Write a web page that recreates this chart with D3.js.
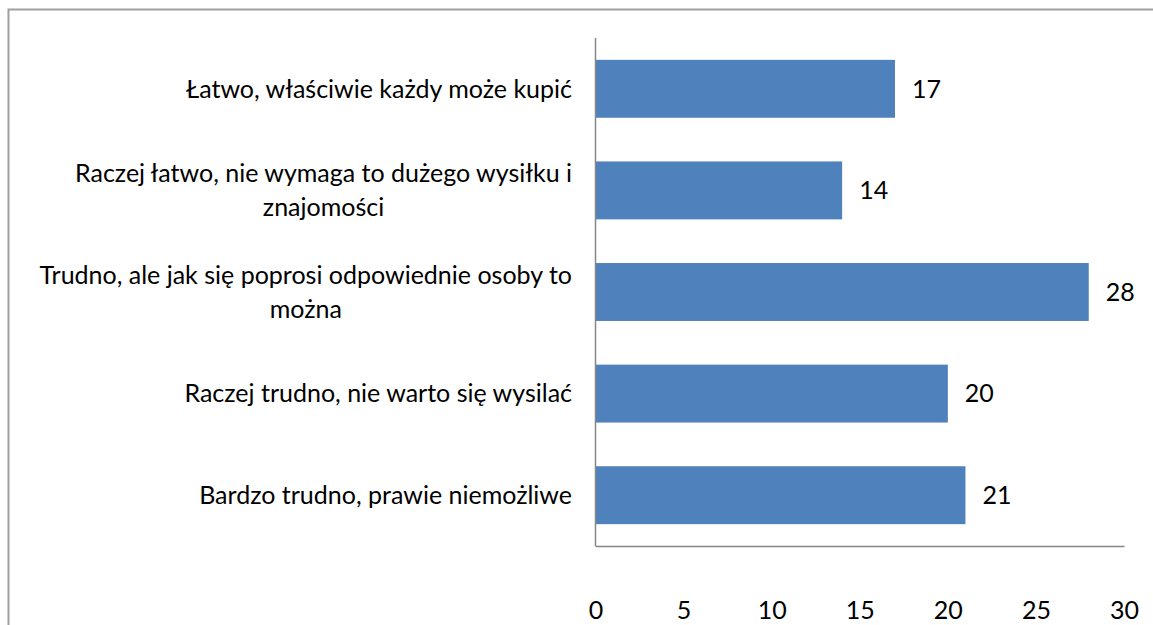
<!DOCTYPE html>
<html>
<head>
<meta charset="utf-8">
<script src="https://cdn.jsdelivr.net/npm/d3@7"></script>
<style>
  body { margin: 0; background: #fff; }
  text { font-family: Lato, "Open Sans", sans-serif; fill: #000; }
</style>
</head>
<body>
<div id="chart"></div>
<script>
var w = 1153;
var h = 625;

// chart data, top to bottom
var categories = [
  ['Łatwo, właściwie każdy może kupić'],
  ['Raczej łatwo, nie wymaga to dużego wysiłku i', 'znajomości'],
  ['Trudno, ale jak się poprosi odpowiednie osoby to', 'można'],
  ['Raczej trudno, nie warto się wysilać'],
  ['Bardzo trudno, prawie niemożliwe']
];
var values = [17, 14, 28, 20, 21];
var ticks = [0, 5, 10, 15, 20, 25, 30];

var fontSize = '25px';

var svg = d3.select('#chart')
  .append('svg')
    .attr('width', w)
    .attr('height', h);

// outer frame (only left and top visible in the crop)
svg.append('rect')
  .attr('x', 8.5)
  .attr('y', 9.5)
  .attr('width', w + 20)
  .attr('height', h + 20)
  .style('fill', 'none')
  .style('stroke', '#a0a0a0')
  .style('stroke-width', 2);

var x = d3.scaleLinear()
  .domain([0, 30])
  .range([595.5, 1124]);

var y = d3.scaleBand()
  .domain(d3.range(categories.length))
  .range([38, 546])
  .paddingInner(0.43)
  .paddingOuter(0.215);

// bars
svg.selectAll('.bar')
  .data(values)
  .enter()
  .append('rect')
    .attr('class', 'bar')
    .attr('x', x(0))
    .attr('y', function(d, i) { return y(i); })
    .attr('width', function(d) { return x(d) - x(0); })
    .attr('height', y.bandwidth())
    .style('fill', '#4f81bd');

// value labels
svg.selectAll('.val')
  .data(values)
  .enter()
  .append('text')
    .attr('class', 'val')
    .attr('x', function(d) { return x(d) + 17; })
    .attr('y', function(d, i) { return y(i) + y.bandwidth() / 2; })
    .attr('dy', '0.35em')
    .style('font-size', fontSize)
    .text(function(d) { return d; });

// category labels
var labelRight = 572;
var lineH = 34;
categories.forEach(function(lines, i) {
  var cy = y(i) + y.bandwidth() / 2;
  var g = svg.append('g');
  var t0 = g.append('text')
    .attr('x', labelRight)
    .attr('y', cy - (lines.length - 1) * lineH / 2)
    .attr('dy', '0.35em')
    .attr('text-anchor', 'end')
    .style('font-size', fontSize)
    .text(lines[0]);
  if (lines.length > 1) {
    var wid = t0.node().getComputedTextLength();
    var mid = labelRight - wid / 2;
    for (var k = 1; k < lines.length; k++) {
      g.append('text')
        .attr('x', mid)
        .attr('y', cy - (lines.length - 1) * lineH / 2 + k * lineH)
        .attr('dy', '0.35em')
        .attr('text-anchor', 'middle')
        .style('font-size', fontSize)
        .text(lines[k]);
    }
  }
});

// axes
var xAxis = d3.axisBottom(x).tickValues(ticks).tickSize(0).tickPadding(0);
var gx = svg.append('g')
  .attr('transform', 'translate(0, 546)')
  .call(xAxis);
gx.select('.domain').style('stroke', '#868686').style('stroke-width', 1.5);
gx.selectAll('text')
  .attr('y', 64)
  .attr('dy', '0.35em')
  .style('font-size', fontSize)
  .style('font-family', 'Lato, "Open Sans", sans-serif')
  .style('fill', '#000');

svg.append('line')
  .attr('x1', x(0)).attr('x2', x(0))
  .attr('y1', 38).attr('y2', 546.5)
  .style('stroke', '#868686')
  .style('stroke-width', 1.5);
</script>
</body>
</html>
